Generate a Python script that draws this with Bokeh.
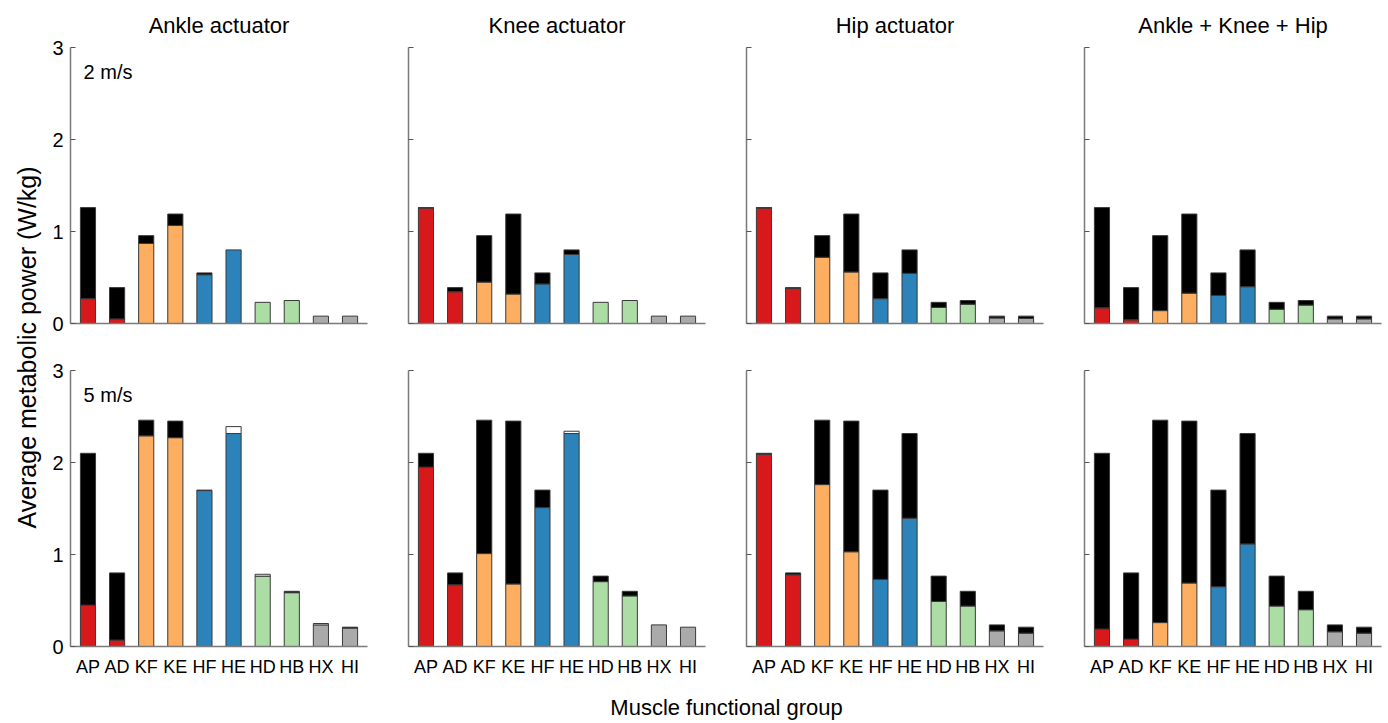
import math
from bokeh.plotting import figure
from bokeh.layouts import gridplot, row, column
from bokeh.models import Range1d, FixedTicker, Label, ColumnDataSource
from bokeh.embed import file_html
from bokeh.resources import INLINE

# ---------------- data ----------------
groups = ["AP", "AD", "KF", "KE", "HF", "HE", "HD", "HB", "HX", "HI"]
group_colors = ["#d7191c", "#d7191c", "#fdae61", "#fdae61", "#2b83ba",
                "#2b83ba", "#abdda4", "#abdda4", "#aaaaaa", "#aaaaaa"]
titles = ["Ankle actuator", "Knee actuator", "Hip actuator", "Ankle + Knee + Hip"]
speeds = ["2 m/s", "5 m/s"]

# unassisted (total bar height)
baseline_2 = [1.26, 0.39, 0.955, 1.19, 0.55, 0.80, 0.23, 0.25, 0.08, 0.08]
baseline_5 = [2.10, 0.80, 2.46, 2.45, 1.70, 2.315, 0.765, 0.60, 0.235, 0.21]

# assisted (coloured part)
ankle_2 = [0.27, 0.05, 0.87, 1.065, 0.53, 0.80, 0.23, 0.25, 0.08, 0.08]
knee_2 = [1.255, 0.345, 0.45, 0.32, 0.43, 0.75, 0.23, 0.25, 0.08, 0.08]
hip_2 = [1.255, 0.38, 0.72, 0.56, 0.27, 0.545, 0.175, 0.21, 0.06, 0.055]
all_2 = [0.17, 0.04, 0.14, 0.33, 0.305, 0.40, 0.155, 0.20, 0.05, 0.05]

ankle_5 = [0.45, 0.07, 2.29, 2.27, 1.695, 2.39, 0.785, 0.585, 0.25, 0.20]
knee_5 = [1.95, 0.67, 1.01, 0.68, 1.51, 2.34, 0.705, 0.55, 0.235, 0.21]
hip_5 = [2.09, 0.78, 1.76, 1.03, 0.73, 1.395, 0.49, 0.44, 0.17, 0.145]
all_5 = [0.19, 0.08, 0.26, 0.69, 0.65, 1.115, 0.44, 0.40, 0.16, 0.145]

y_ticks = [0, 1, 2, 3]

rows_data = [
    (baseline_2, [ankle_2, knee_2, hip_2, all_2]),
    (baseline_5, [ankle_5, knee_5, hip_5, all_5]),
]

FONT = "Liberation Sans"
AXIS_COLOR = "#7a7a7a"
EDGE = "#3a3a3a"
BAR_W = 0.52
xs = list(range(1, len(groups) + 1))

FRAME_W = 297
FRAME_H = 276


def make_panel(r, c, base, assisted):
    top_border = 47 if r == 0 else 27
    bottom_border = 20 if r == 0 else 38
    right_border = 5 if c == 3 else 20
    p = figure(frame_width=FRAME_W, frame_height=FRAME_H,
               x_range=Range1d(0.4, 10.6), y_range=Range1d(0, 3),
               output_backend="svg", toolbar_location=None,
               min_border_left=21, min_border_right=right_border,
               min_border_top=top_border, min_border_bottom=bottom_border,
               outline_line_color=None, background_fill_color="white",
               border_fill_color="white")
    if r == 0:
        p.title.text = titles[c]
        p.title.align = "center"
        p.title.text_font = FONT
        p.title.text_font_size = "22px"
        p.title.text_font_style = "normal"
        p.title.text_color = "black"
        p.title.standoff = 20
    p.grid.visible = False

    low = [min(a, b) for a, b in zip(assisted, base)]
    src = ColumnDataSource(dict(x=xs, top=low, color=group_colors))
    p.vbar(x="x", bottom=0, top="top", width=BAR_W, source=src,
           fill_color="color", line_color=EDGE, line_width=1)

    bx, bb, bt = [], [], []
    wx, wb, wt = [], [], []
    for x, a, b in zip(xs, assisted, base):
        if a < b:
            bx.append(x); bb.append(a); bt.append(b)
        elif a > b:
            wx.append(x); wb.append(b); wt.append(a)
    if bx:
        p.vbar(x=bx, bottom=bb, top=bt, width=BAR_W, fill_color="black",
               line_color=EDGE, line_width=1)
    if wx:
        p.vbar(x=wx, bottom=wb, top=wt, width=BAR_W, fill_color="white",
               line_color=EDGE, line_width=1)

    # x axis
    xa = p.xaxis[0]
    xa.major_tick_in = 0
    xa.major_tick_out = 0
    xa.minor_tick_line_color = None
    xa.axis_line_color = AXIS_COLOR
    xa.axis_line_width = 1.5
    xa.major_label_text_font = FONT
    xa.major_label_text_color = "black"
    if r == 0:
        xa.ticker = FixedTicker(ticks=[])
        xa.major_label_standoff = 0
    else:
        xa.ticker = FixedTicker(ticks=xs)
        xa.major_label_overrides = {x: g for x, g in zip(xs, groups)}
        xa.major_label_text_font_size = "18px"
        xa.major_label_standoff = 10

    # y axis
    ya = p.yaxis[0]
    ya.ticker = FixedTicker(ticks=y_ticks)
    ya.major_tick_in = 5
    ya.major_tick_out = 0
    ya.minor_tick_line_color = None
    ya.major_tick_line_color = "#555555"
    ya.axis_line_color = AXIS_COLOR
    ya.axis_line_width = 1.5
    ya.major_label_text_font = FONT
    ya.major_label_text_color = "black"
    ya.major_label_standoff = 7
    ya.major_label_text_font_size = "20px"
    if c == 0:
        p.add_layout(Label(x=0.85, y=2.73, text=speeds[r], text_font=FONT,
                           text_font_size="20px", text_baseline="middle",
                           text_align="left", text_color="black"))
    else:
        ya.major_label_overrides = {t: "" for t in y_ticks}
    return p


panels = []
for r, (base, series) in enumerate(rows_data):
    panels.append([make_panel(r, c, base, series[c]) for c in range(4)])

grid = gridplot(panels, toolbar_location=None)

GRID_H = 47 + FRAME_H + 20 + 27 + FRAME_H + 38   # 684
YLAB_W = 49
ylab = figure(frame_width=YLAB_W, frame_height=GRID_H, x_range=Range1d(0, YLAB_W),
              y_range=Range1d(0, GRID_H), output_backend="svg",
              toolbar_location=None, min_border=0, outline_line_color=None)
ylab.axis.visible = False
ylab.grid.visible = False
ylab.add_layout(Label(x=26, y=GRID_H - 347, text="Average metabolic power (W/kg)",
                      angle=math.pi / 2, text_align="center",
                      text_baseline="middle", text_font=FONT,
                      text_font_size="25px", text_color="black"))

TOTAL_W = YLAB_W + 3 * (21 + FRAME_W + 20) + (21 + FRAME_W + 5)
XLAB_H = 39
xlab = figure(frame_width=TOTAL_W, frame_height=XLAB_H, x_range=Range1d(0, TOTAL_W),
              y_range=Range1d(0, XLAB_H), output_backend="svg",
              toolbar_location=None, min_border=0, outline_line_color=None)
xlab.axis.visible = False
xlab.grid.visible = False
xlab.add_layout(Label(x=726, y=GRID_H + XLAB_H - 707, text="Muscle functional group",
                      text_align="center", text_baseline="middle",
                      text_font=FONT, text_font_size="22px",
                      text_color="black"))

layout = column(row(ylab, grid, spacing=0), xlab, spacing=0)

open("out.html", "w").write(file_html(layout, INLINE))
